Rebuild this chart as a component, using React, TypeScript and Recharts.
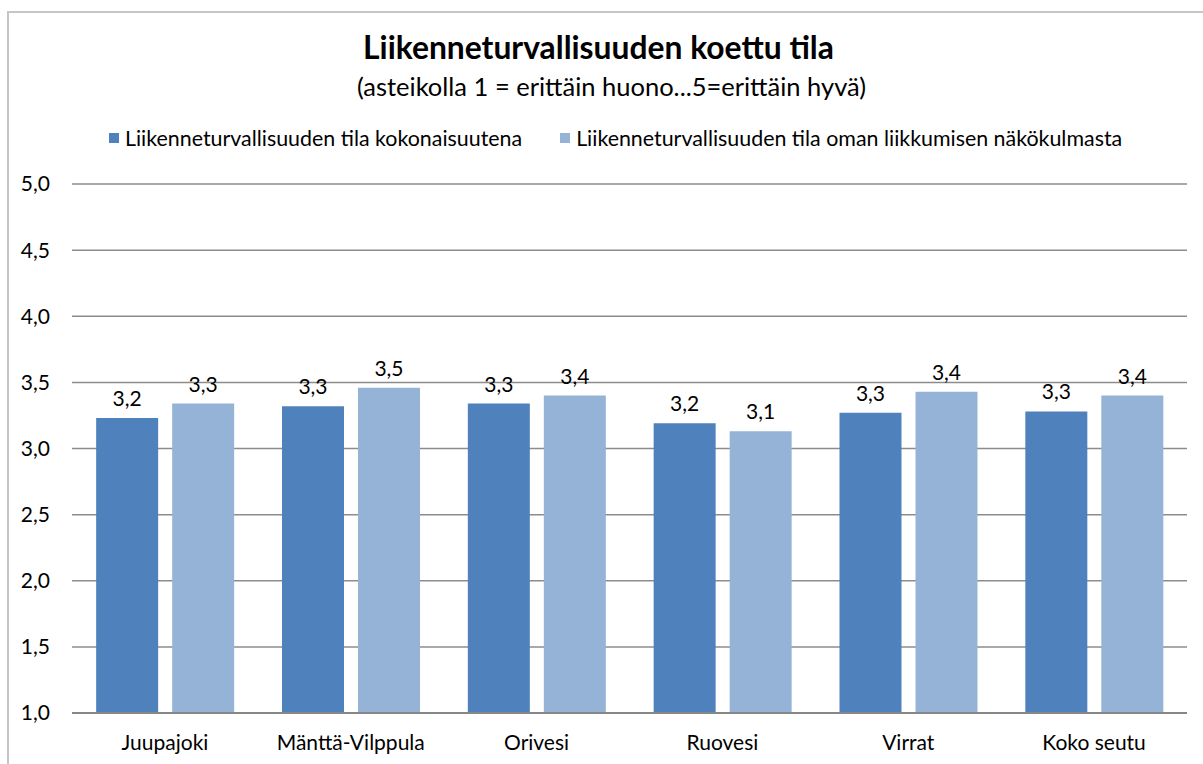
import React from "react";
import { BarChart, Bar, XAxis, YAxis, CartesianGrid, LabelList } from "recharts";

const categories = ["Juupajoki", "Mänttä-Vilppula", "Orivesi", "Ruovesi", "Virrat", "Koko seutu"];
const kokonaisuutena = [3.23, 3.32, 3.34, 3.19, 3.27, 3.28];
const omanLiikkumisen = [3.34, 3.46, 3.4, 3.13, 3.43, 3.4];
const yTicks = [1, 1.5, 2, 2.5, 3, 3.5, 4, 4.5, 5];

const series = [
  { key: "a", name: "Liikenneturvallisuuden tila kokonaisuutena", color: "#4F81BD" },
  { key: "b", name: "Liikenneturvallisuuden tila oman liikkumisen näkökulmasta", color: "#95B3D7" },
];

const data = categories.map((name, i) => ({
  name,
  a: kokonaisuutena[i],
  b: omanLiikkumisen[i],
}));

const FONT = "Lato, 'Liberation Sans', sans-serif";
const fmt = (v: number) => v.toFixed(1).replace(".", ",");

export default function App() {
  return (
    <div
      style={{
        position: "fixed",
        left: 0,
        top: 0,
        width: 1203,
        height: 764,
        background: "#fff",
        fontFamily: FONT,
        color: "#000",
        overflow: "hidden",
      }}
    >
      {/* chart frame, only top and left edges visible */}
      <div
        style={{
          position: "absolute",
          left: 7,
          top: 11,
          width: 1300,
          height: 900,
          borderTop: "2px solid #C6C6C6",
          borderLeft: "2px solid #C6C6C6",
        }}
      />
      <div
        style={{
          position: "absolute",
          top: 29,
          left: -3,
          width: "100%",
          textAlign: "center",
          fontSize: 31.8,
          lineHeight: "36px",
          fontWeight: 700,
        }}
      >
        Liikenneturvallisuuden koettu tila
      </div>
      <div
        style={{
          position: "absolute",
          top: 71,
          left: 10,
          width: "100%",
          textAlign: "center",
          fontSize: 25.5,
          lineHeight: "30px",
        }}
      >
        (asteikolla 1 = erittäin huono...5=erittäin hyvä)
      </div>
      <div
        style={{
          position: "absolute",
          top: 125,
          left: 109,
          display: "flex",
          fontSize: 21.4,
          lineHeight: "26px",
          alignItems: "center",
        }}
      >
        {series.map((s) => (
          <div key={s.key} style={{ display: "flex", alignItems: "center", marginRight: 38 }}>
            <span style={{ width: 10, height: 10, background: s.color, marginRight: 6 }} />
            <span>{s.name}</span>
          </div>
        ))}
      </div>
      <BarChart
        width={1203}
        height={764}
        data={data}
        margin={{ top: 184, right: 16, bottom: 21, left: 0 }}
        barCategoryGap="13%"
        barGap={14}
        style={{ position: "absolute", left: 0, top: 0 }}
      >
        <CartesianGrid vertical={false} stroke="#8C8C8C" strokeWidth={1.5} />
        <XAxis
          dataKey="name"
          height={30}
          axisLine={{ stroke: "#868686", strokeWidth: 2 }}
          tickLine={false}
          tickSize={0}
          tickMargin={22}
          tick={{ fontSize: 21, fill: "#000", fontFamily: FONT }}
        />
        <YAxis
          type="number"
          domain={[1, 5]}
          ticks={yTicks}
          axisLine={false}
          tickLine={false}
          tickSize={0}
          tickMargin={22}
          width={72}
          tickFormatter={fmt}
          tick={{ fontSize: 21, fill: "#000", fontFamily: FONT }}
        />
        {series.map((s) => (
          <Bar key={s.key} dataKey={s.key} name={s.name} fill={s.color} isAnimationActive={false}>
            <LabelList
              dataKey={s.key}
              position="top"
              offset={12}
              formatter={(v: any) => fmt(Number(v))}
              style={{ fontSize: 21, fill: "#000", fontFamily: FONT }}
            />
          </Bar>
        ))}
      </BarChart>
    </div>
  );
}
